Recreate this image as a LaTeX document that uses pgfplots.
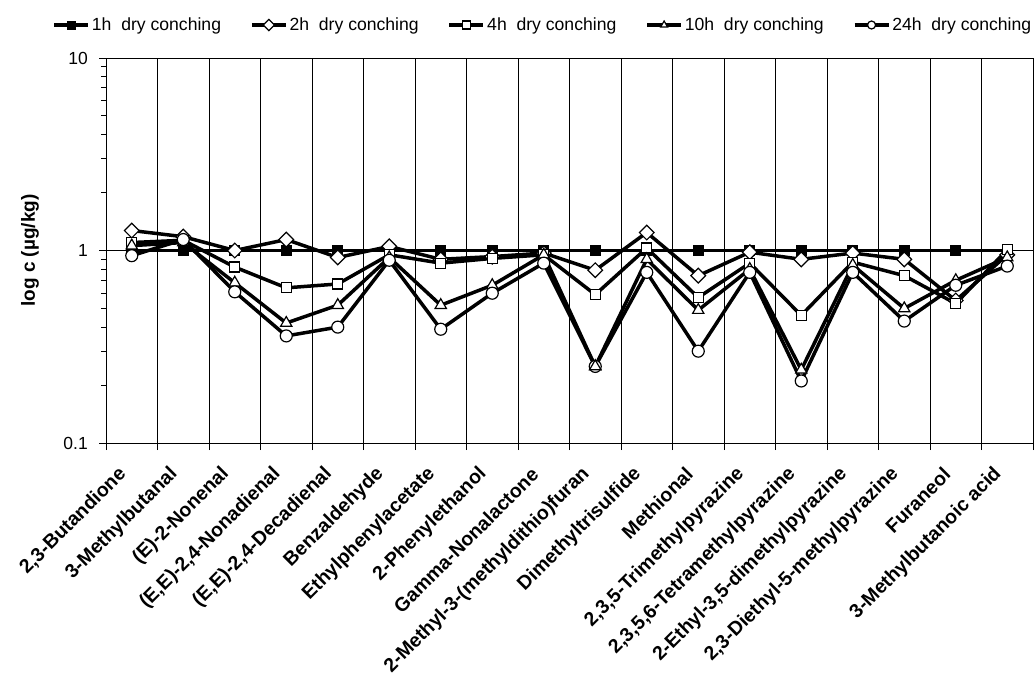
\documentclass[border=0pt]{standalone}
\usepackage{pgfplots}
\pgfplotsset{compat=1.18}
\usepackage{fontspec}
\setmainfont{Liberation Sans}
\begin{document}
\begin{tikzpicture}
\path[use as bounding box] (0bp,0bp) rectangle (1034bp,-684bp);
\begin{axis}[
  at={(106bp,-443bp)}, anchor=south west,
  scale only axis, width=927bp, height=385bp,
  ymode=log, ymin=0.1, ymax=10,
  ytick={0.1,1,10}, yticklabels={0.1,1,10},
  xmin=-0.5, xmax=17.5,
  xtick={-0.5,0.5,...,17.5}, xticklabels={},
  xmajorgrids, ymajorgrids,
  major grid style={black, line width=0.8bp},
  axis line style={black, line width=1bp},
  tick align=outside, tick pos=left,
  major tick length=7bp, minor tick length=5bp,
  every tick/.style={black, line width=1bp},
  /pgf/number format/assume math mode=true,
  yticklabel style={font=\fontsize{17.5bp}{20bp}\selectfont, inner sep=0pt, xshift=-11bp},
  extra x ticks={-0.17,0.83,1.83,2.83,3.83,4.83,5.83,6.83,7.83,8.83,9.83,10.83,11.83,12.83,13.83,14.83,15.83,16.83},
  extra x tick labels={{2,3-Butandione},{3-Methylbutanal},{(E)-2-Nonenal},{(E,E)-2,4-Nonadienal},{(E,E)-2,4-Decadienal},{Benzaldehyde},{Ethylphenylacetate},{2-Phenylethanol},{Gamma-Nonalactone},{2-Methyl-3-(methyldithio)furan},{Dimethyltrisulfide},{Methional},{2,3,5-Trimethylpyrazine},{2,3,5,6-Tetramethylpyrazine},{2-Ethyl-3,5-dimethylpyrazine},{2,3-Diethyl-5-methylpyrazine},{Furaneol},{3-Methylbutanoic acid}},
  extra x tick style={grid=none, major tick length=0pt,
    tick label style={yshift=-28bp, rotate=45, anchor=east, inner sep=0pt,
      font=\bfseries\fontsize{19.5bp}{22bp}\selectfont}},
  ylabel={\bfseries log c (µg/kg)},
  every axis y label/.style={at={(axis description cs:0,0.5)}, xshift=-76bp, rotate=90, anchor=center, font=\fontsize{19bp}{22bp}\selectfont},
  legend columns=5,
  legend style={at={(axis description cs:-0.058,1.0857)}, anchor=west, draw=none, fill=none,
    inner xsep=0pt, inner ysep=0pt,
    font=\fontsize{17.6bp}{20bp}\selectfont,
    nodes={inner sep=2bp},
    /tikz/every even column/.append style={column sep=27bp}},
  legend image code/.code={\draw[mark repeat=2,mark phase=2,mark size=4bp] plot coordinates {(0bp,0bp) (17bp,0bp) (34bp,0bp)};},
]
\addplot[black, line width=3.5bp, mark=square*, mark size=4.8bp, mark options={solid, fill=black, line width=1bp}]
coordinates {(0,1) (1,1) (2,1) (3,1) (4,1) (5,1) (6,1) (7,1) (8,1) (9,1) (10,1) (11,1) (12,1) (13,1) (14,1) (15,1) (16,1) (17,1)};
\addlegendentry{1h\ \ dry conching}
\addplot[black, line width=3.5bp, mark=square*, mark size=5.2bp, mark options={solid, fill=white, line width=1.2bp, rotate=45}]
coordinates {(0,1.27) (1,1.18) (2,1.00) (3,1.14) (4,0.92) (5,1.05) (6,0.90) (7,0.93) (8,0.97) (9,0.79) (10,1.24) (11,0.74) (12,0.98) (13,0.90) (14,0.97) (15,0.90) (16,0.55) (17,0.95)};
\addlegendentry{2h\ \ dry conching}
\addplot[black, line width=3.5bp, mark=square*, mark size=5bp, mark options={solid, fill=white, line width=1.2bp}]
coordinates {(0,1.10) (1,1.13) (2,0.82) (3,0.64) (4,0.67) (5,0.95) (6,0.86) (7,0.91) (8,0.95) (9,0.59) (10,1.03) (11,0.57) (12,0.86) (13,0.46) (14,0.87) (15,0.74) (16,0.53) (17,1.01)};
\addlegendentry{4h\ \ dry conching}
\addplot[black, line width=3.5bp, mark=triangle*, mark size=6.5bp, mark options={solid, fill=white, line width=1.2bp}]
coordinates {(0,1.06) (1,1.10) (2,0.68) (3,0.42) (4,0.52) (5,0.92) (6,0.52) (7,0.66) (8,0.95) (9,0.25) (10,0.90) (11,0.49) (12,0.80) (13,0.24) (14,0.84) (15,0.50) (16,0.70) (17,0.92)};
\addlegendentry{10h\ \ dry conching}
\addplot[black, line width=3.5bp, mark=*, mark size=6bp, mark options={solid, fill=white, line width=1.2bp}]
coordinates {(0,0.94) (1,1.14) (2,0.61) (3,0.36) (4,0.40) (5,0.89) (6,0.39) (7,0.60) (8,0.86) (9,0.25) (10,0.77) (11,0.30) (12,0.77) (13,0.21) (14,0.77) (15,0.43) (16,0.66) (17,0.83)};
\addlegendentry{24h\ \ dry conching}
\addplot[only marks, black, mark=triangle*, mark size=6.5bp, mark options={solid, fill=white, line width=1.2bp}, forget plot]
coordinates {(9,0.25)};
\end{axis}
\end{tikzpicture}
\end{document}
